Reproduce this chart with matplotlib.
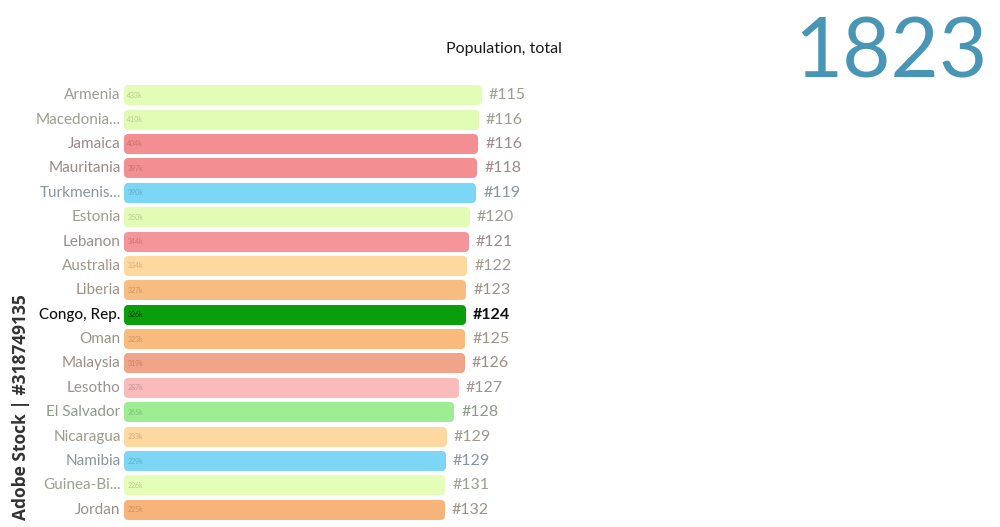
import numpy as np
import matplotlib.pyplot as plt
from matplotlib import colors as mcolors

plt.rcParams['font.family'] = ['Lato', 'DejaVu Sans']

# data (population in thousands, year 1823)
countries = ["Armenia", "Macedonia...", "Jamaica", "Mauritania", "Turkmenis...",
             "Estonia", "Lebanon", "Australia", "Liberia", "Congo, Rep.",
             "Oman", "Malaysia", "Lesotho", "El Salvador", "Nicaragua",
             "Namibia", "Guinea-Bi...", "Jordan"]
population_k = [433, 410, 404, 397, 390, 350, 344, 334, 327, 326,
                323, 319, 287, 265, 233, 229, 226, 225]
ranks = ["#115", "#116", "#116", "#118", "#119", "#120", "#121", "#122", "#123",
         "#124", "#125", "#126", "#127", "#128", "#129", "#129", "#131", "#132"]
bar_colors = ["#e2fdb5", "#e0fcb4", "#f38e92", "#f38e92", "#7cd6f5",
              "#e2fcb5", "#f3959a", "#fdd9a0", "#f8bc80", "#0a9e0a",
              "#f8ba7d", "#f0a48a", "#f8babb", "#9eec94", "#fdd8a0",
              "#7dd6f5", "#e4fdb7", "#f7b47a"]
highlight = "Congo, Rep."
title = "Population, total"
year = "1823"

fig = plt.figure(figsize=(10, 5.27), dpi=100)
ax = fig.add_axes([0.120, 1 - 522 / 527, 0.476, 439 / 527])
ax.set_xscale('log')
x_min, x_max = 0.768, 3500
ax.set_xlim(x_min, x_max)
ax.set_ylim(len(countries) - 0.5, -0.5)
ax.axis('off')

base = x_min * np.exp(8 / 56.5)

for i, (name, val, rank, col) in enumerate(zip(countries, population_k, ranks, bar_colors)):
    rgb = np.array(mcolors.to_rgb(col))
    is_hi = name == highlight
    ax.barh(i, val - base, left=base, height=0.49, color=col, edgecolor=col,
            linewidth=5.8, joinstyle='round', clip_on=False)
    if is_hi:
        lab_col = "#111111"
        val_col = "#0b3d0b"
    else:
        # muted, slightly tinted grey for the labels
        lab_col = tuple(0.28 * (rgb * 0.75) + 0.72 * 0.58)
        val_col = tuple(rgb * 0.8)
    ax.annotate(name, (x_min, i), xytext=(0.5, 0), textcoords='offset points',
                ha='right', va='center', fontsize=11, color=lab_col,
                fontweight='medium' if is_hi else 'normal', annotation_clip=False)
    ax.annotate(rank, (val, i), xytext=(8, 0), textcoords='offset points',
                ha='left', va='center', fontsize=11.5, color=lab_col,
                fontweight='bold' if is_hi else 'normal', annotation_clip=False)
    ax.annotate(f"{val}k", (base, i), xytext=(-0.5, 0), textcoords='offset points',
                ha='left', va='center', fontsize=5, color=val_col,
                annotation_clip=False)

fig.text(0.504, 1 - 49 / 527, title, ha='center', va='center',
         fontsize=11.5, color='#1a1a1a')
fig.text(0.891, 1 - 54 / 527, year, ha='center', va='center',
         fontsize=60, color='#4895b5')
fig.text(0.021, 1 - 407 / 527, "Adobe Stock | #318749135", rotation=90,
         ha='center', va='center', fontsize=12.5, color='#333333',
         fontweight='bold', family=['Open Sans', 'DejaVu Sans'])

fig.savefig('out.png', dpi=100, facecolor='white')
